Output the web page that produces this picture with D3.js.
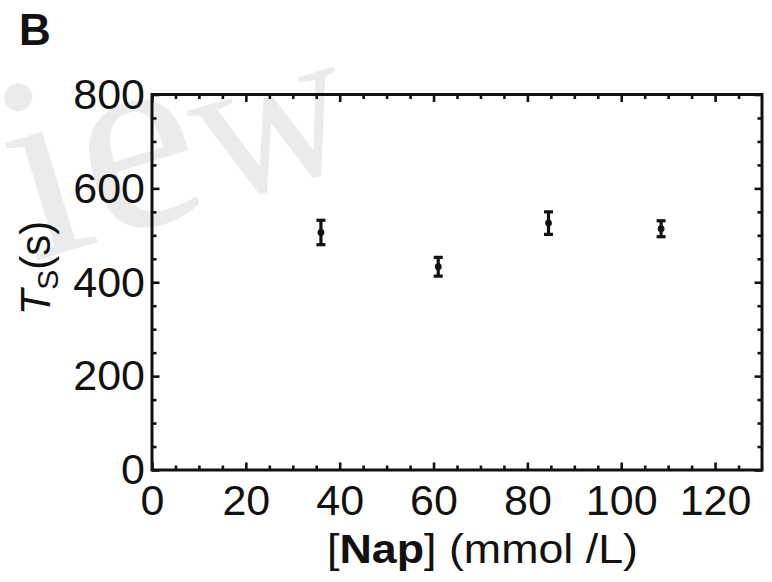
<!DOCTYPE html>
<html>
<head>
<meta charset="utf-8">
<script src="https://cdn.jsdelivr.net/npm/d3@7"></script>
<style>
body { margin: 0; background: #fff; }
svg { display: block; }
</style>
</head>
<body>
<div id="canvas"></div>
<script>
"use strict"

// data
let concentration = [36, 61, 84.5, 108.5];
let tsMean = [506, 433, 526, 514];
let tsError = [26, 20, 24, 17];

let xMajorTicks = [0, 20, 40, 60, 80, 100, 120];
let yMajorTicks = [0, 200, 400, 600, 800];
let xMinorTicks = d3.range(5, 130, 5).filter(v => v % 20 !== 0);
let yMinorTicks = d3.range(50, 800, 50).filter(v => v % 200 !== 0);

let drawingWidth = 772;
let drawingHeight = 582;

let plotLeft = 152, plotRight = 762, plotTop = 94.5, plotBottom = 470;
let ink = "#111";
let font = "'Liberation Sans', Arial, sans-serif";

let drawing = d3.select("#canvas")
    .append("svg")
    .attr("width", drawingWidth)
    .attr("height", drawingHeight);

// faint watermark in the background
let mark = drawing.append("text")
    .attr("transform", "translate(32,262) rotate(-17)")
    .attr("font-family", "'Liberation Serif', 'DejaVu Serif', serif")
    .attr("font-size", 265)
    .attr("fill", "#ebebeb");
mark.append("tspan").text("ie");
mark.append("tspan").attr("font-size", 215).text("w");

let x = d3.scaleLinear().domain([0, 130]).range([plotLeft, plotRight]);
let y = d3.scaleLinear().domain([0, 800]).range([plotBottom, plotTop]);

// panel letter
drawing.append("text")
    .attr("x", 19)
    .attr("y", 45)
    .attr("font-family", font)
    .attr("font-weight", "bold")
    .attr("font-size", 44)
    .attr("fill", ink)
    .text("B");

function styleAxis(g) {
    g.select(".domain").remove();
    g.selectAll(".tick line").attr("stroke", ink).attr("stroke-width", 2.6);
    g.selectAll(".tick text")
        .attr("font-family", font)
        .attr("font-size", 43)
        .attr("fill", ink);
}

// major ticks, all four sides, pointing inwards
drawing.append("g")
    .attr("transform", `translate(0,${plotBottom})`)
    .call(d3.axisBottom(x).tickValues(xMajorTicks).tickSize(-7.5).tickPadding(14))
    .call(styleAxis);
drawing.append("g")
    .attr("transform", `translate(0,${plotTop})`)
    .call(d3.axisTop(x).tickValues(xMajorTicks).tickSize(-7.5).tickFormat(""))
    .call(styleAxis);
drawing.append("g")
    .attr("transform", `translate(${plotLeft},0)`)
    .call(d3.axisLeft(y).tickValues(yMajorTicks).tickSize(-7.5).tickPadding(7))
    .call(styleAxis);
drawing.append("g")
    .attr("transform", `translate(${plotRight},0)`)
    .call(d3.axisRight(y).tickValues(yMajorTicks).tickSize(-7.5).tickFormat(""))
    .call(styleAxis);

// minor ticks
drawing.append("g")
    .attr("transform", `translate(0,${plotBottom})`)
    .call(d3.axisBottom(x).tickValues(xMinorTicks).tickSize(-4.5).tickFormat(""))
    .call(styleAxis);
drawing.append("g")
    .attr("transform", `translate(0,${plotTop})`)
    .call(d3.axisTop(x).tickValues(xMinorTicks).tickSize(-4.5).tickFormat(""))
    .call(styleAxis);
drawing.append("g")
    .attr("transform", `translate(${plotLeft},0)`)
    .call(d3.axisLeft(y).tickValues(yMinorTicks).tickSize(-4.5).tickFormat(""))
    .call(styleAxis);
drawing.append("g")
    .attr("transform", `translate(${plotRight},0)`)
    .call(d3.axisRight(y).tickValues(yMinorTicks).tickSize(-4.5).tickFormat(""))
    .call(styleAxis);

// frame
drawing.append("rect")
    .attr("x", plotLeft)
    .attr("y", plotTop)
    .attr("width", plotRight - plotLeft)
    .attr("height", plotBottom - plotTop)
    .attr("fill", "none")
    .attr("stroke", ink)
    .attr("stroke-width", 3);

// error bars
let points = concentration.map((c, i) => ({c: c, m: tsMean[i], e: tsError[i]}));
let bars = drawing.append("g").attr("stroke", ink).attr("stroke-width", 3.2);

bars.selectAll("line.stem")
    .data(points)
    .join("line")
    .attr("class", "stem")
    .attr("x1", d => x(d.c))
    .attr("x2", d => x(d.c))
    .attr("y1", d => y(d.m - d.e))
    .attr("y2", d => y(d.m + d.e));

bars.selectAll("line.capTop")
    .data(points)
    .join("line")
    .attr("class", "capTop")
    .attr("x1", d => x(d.c) - 4.5)
    .attr("x2", d => x(d.c) + 4.5)
    .attr("y1", d => y(d.m + d.e))
    .attr("y2", d => y(d.m + d.e));

bars.selectAll("line.capBottom")
    .data(points)
    .join("line")
    .attr("class", "capBottom")
    .attr("x1", d => x(d.c) - 4.5)
    .attr("x2", d => x(d.c) + 4.5)
    .attr("y1", d => y(d.m - d.e))
    .attr("y2", d => y(d.m - d.e));

drawing.append("g").selectAll("circle")
    .data(points)
    .join("circle")
    .attr("cx", d => x(d.c))
    .attr("cy", d => y(d.m))
    .attr("r", 3.4)
    .attr("fill", ink);

// axis titles
let xTitle = drawing.append("text")
    .attr("transform", "translate(327,563) scale(1.12,1)")
    .attr("font-family", font)
    .attr("font-size", 40)
    .attr("fill", ink);
xTitle.append("tspan").text("[");
xTitle.append("tspan").attr("font-weight", "bold").text("Nap");
xTitle.append("tspan").text("] (mmol /L)");

let yTitle = drawing.append("text")
    .attr("transform", "translate(50,268) rotate(-90)")
    .attr("text-anchor", "middle")
    .attr("font-family", font)
    .attr("font-size", 42)
    .attr("fill", ink);
yTitle.append("tspan").attr("font-style", "italic").text("T");
yTitle.append("tspan").attr("font-size", 30).attr("dy", 8).text("S");
yTitle.append("tspan").attr("dy", -8).text("(s)");
</script>
</body>
</html>
